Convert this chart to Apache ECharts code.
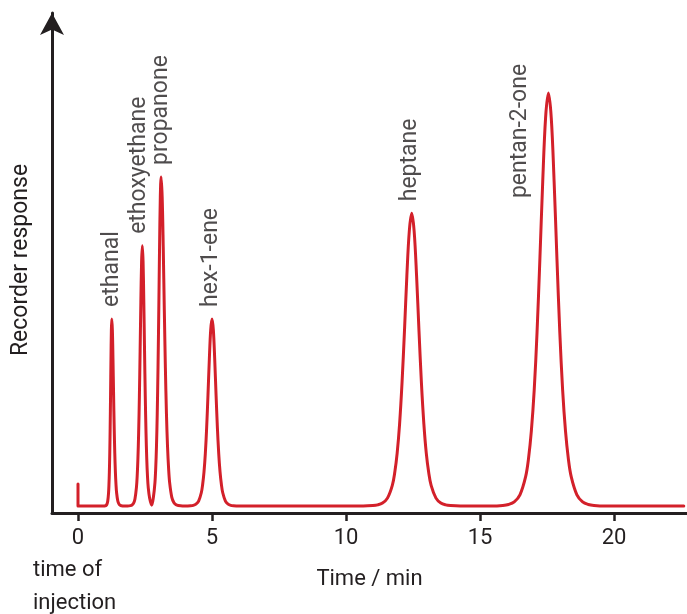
<!DOCTYPE html>
<html>
<head>
<meta charset="utf-8">
<title>Gas chromatogram</title>
<script src="https://cdn.jsdelivr.net/npm/echarts@6/dist/echarts.min.js"></script>
<style>
html,body{margin:0;padding:0;background:#fff}
#chart{width:687px;height:614px}
</style>
</head>
<body>
<div id="chart"></div>
<script>
// trace (time in min, response in arbitrary units)
var traceTime = [
	0, 0,
	0.96, 1.02, 1.05, 1.08, 1.11, 1.14, 1.155, 1.17, 1.185, 1.20, 1.215, 1.23, 1.245, 1.26,
	1.2825, 1.305, 1.3275, 1.35, 1.3725, 1.395, 1.4175, 1.44, 1.485, 1.53, 1.575, 1.62, 1.71,
	1.85, 1.96, 2.015, 2.07, 2.125, 2.18, 2.2075, 2.235, 2.2625, 2.29, 2.3175, 2.345, 2.3725, 2.40,
	2.4275, 2.455, 2.4825, 2.51, 2.5375, 2.565, 2.5925, 2.62, 2.675, 2.75,
	2.8125, 2.87, 2.899, 2.9275, 2.956, 2.985, 3.014, 3.0425, 3.071, 3.10,
	3.14, 3.18, 3.22, 3.26, 3.30, 3.34, 3.38, 3.42, 3.50, 3.58, 3.66, 3.74, 3.90,
	4.00, 4.20, 4.30, 4.40, 4.50, 4.60, 4.65, 4.70, 4.75, 4.80, 4.85, 4.90, 4.95, 5.00,
	5.05, 5.10, 5.15, 5.20, 5.25, 5.30, 5.35, 5.40, 5.50, 5.60, 5.70, 5.80, 6.00,
	10.64, 11.00, 11.18, 11.36, 11.545, 11.726, 11.817, 11.907, 11.998, 12.088, 12.179, 12.269, 12.36, 12.45,
	12.54, 12.631, 12.722, 12.812, 12.903, 12.993, 13.084, 13.174, 13.355, 13.536, 13.717, 13.898, 14.26,
	15.425, 15.85, 16.0625, 16.275, 16.4875, 16.70, 16.806, 16.9125, 17.019, 17.125, 17.231, 17.3375, 17.444, 17.55,
	17.656, 17.7625, 17.869, 17.975, 18.081, 18.1875, 18.294, 18.40, 18.6125, 18.825, 19.0375, 19.25, 19.675,
	22.6
];
var traceResponse = [
	5.3, 0,
	0, 0.06, 0.16, 0.45, 1.2, 3.2, 5.2, 8.2, 12.7, 19.0, 27.0, 35.6, 42.6, 45.3,
	42.6, 35.6, 27.0, 19.0, 12.7, 8.2, 5.2, 3.2, 1.2, 0.45, 0.16, 0.06, 0,
	0, 0.08, 0.23, 0.62, 1.7, 4.5, 7.2, 11.4, 17.7, 26.5, 37.6, 49.5, 59.2, 63.0,
	59.2, 49.5, 37.6, 26.5, 17.7, 11.4, 7.2, 4.5, 1.8, 0.2,
	2.1, 5.6, 9.1, 14.4, 22.3, 33.5, 47.5, 62.7, 74.9, 79.7,
	74.9, 62.7, 47.5, 33.5, 22.3, 14.4, 9.1, 5.6, 2.1, 0.79, 0.29, 0.11, 0,
	0, 0.06, 0.16, 0.45, 1.2, 3.2, 5.2, 8.2, 12.7, 19.0, 27.0, 35.6, 42.6, 45.3,
	42.6, 35.6, 27.0, 19.0, 12.7, 8.2, 5.2, 3.2, 1.2, 0.45, 0.16, 0.06, 0,
	0, 0.10, 0.26, 0.70, 1.9, 5.0, 8.1, 12.8, 19.9, 29.8, 42.3, 55.8, 66.6, 70.9,
	66.6, 55.8, 42.3, 29.8, 19.9, 12.8, 8.1, 5.0, 1.9, 0.70, 0.26, 0.10, 0,
	0, 0.13, 0.36, 0.99, 2.7, 7.1, 11.4, 18.1, 28.0, 42.0, 59.7, 78.6, 94.0, 100,
	94.0, 78.6, 59.7, 42.0, 28.0, 18.1, 11.4, 7.1, 2.7, 0.99, 0.36, 0.13, 0,
	0
];

// peaks and their names
var peakNames = ['ethanal', 'ethoxyethane', 'propanone', 'hex-1-ene', 'heptane', 'pentan-2-one'];
var peakTimes = [1.26, 2.40, 3.10, 5.00, 12.45, 17.55];
var peakHeights = [45.3, 63.0, 79.7, 45.3, 70.9, 100];

var timeTicks = [0, 5, 10, 15, 20];

// nudges for the rotated peak names, in the label's own frame [along, across]
var nameShift = {
	'ethanal': [0, 0],
	'ethoxyethane': [0, -3],
	'propanone': [0, 0],
	'hex-1-ene': [0, -1],
	'heptane': [0, -1],
	'pentan-2-one': [-117, -28]
};

var ink = '#231f20';
var red = '#d3202a';
var font = 'Roboto';

var linePoints = [];
for (var i = 0; i < traceTime.length; i++) {
	linePoints.push([traceTime[i], traceResponse[i]]);
}
var namePoints = [];
for (var j = 0; j < peakNames.length; j++) {
	namePoints.push({
		name: peakNames[j],
		value: [peakTimes[j], peakHeights[j]],
		label: {offset: nameShift[peakNames[j]]}
	});
}

var myChart = echarts.init(document.getElementById('chart'));
var option = {
	animation: false,
	grid: {left: 52, right: 0, top: 13, bottom: 101, containLabel: false, outerBoundsMode: 'none'},
	xAxis: {
		type: 'value',
		min: -0.97,
		max: 22.72,
		name: 'Time / min',
		nameLocation: 'middle',
		nameGap: 55,
		nameTextStyle: {fontFamily: font, fontSize: 22, color: ink},
		axisLine: {onZero: false, lineStyle: {color: ink, width: 3}},
		axisTick: {show: true, length: 8, customValues: timeTicks, lineStyle: {color: ink, width: 2.5}},
		axisLabel: {customValues: timeTicks, margin: 14, fontFamily: font, fontSize: 22, color: ink},
		splitLine: {show: false}
	},
	yAxis: {
		type: 'value',
		min: -1.7,
		max: 119.4,
		name: 'Recorder response',
		nameLocation: 'middle',
		nameRotate: 90,
		nameGap: 19,
		nameTextStyle: {fontFamily: font, fontSize: 23, color: ink, padding: [0, 0, 0, 6]},
		axisLine: {show: true, onZero: false, symbol: ['none', 'arrow'], symbolSize: [18, 22], lineStyle: {color: ink, width: 3}},
		axisTick: {show: false},
		axisLabel: {show: false},
		splitLine: {show: false}
	},
	series: [
		{
			type: 'line',
			data: linePoints,
			showSymbol: false,
			symbol: 'none',
			smooth: 0.35,
			lineStyle: {color: red, width: 3, join: 'round', cap: 'round'},
			z: 3
		},
		{
			type: 'scatter',
			data: namePoints,
			symbolSize: 0,
			silent: true,
			label: {
				show: true,
				formatter: '{b}',
				position: 'top',
				distance: 12,
				rotate: 90,
				align: 'left',
				verticalAlign: 'middle',
				fontFamily: font,
				fontSize: 23,
				color: ink
			}
		}
	],
	graphic: [
		{
			type: 'text',
			left: 33,
			top: 554,
			style: {text: 'time of\ninjection', font: '22px Roboto', lineHeight: 33, fill: ink}
		}
	]
};
myChart.setOption(option);
</script>
</body>
</html>
